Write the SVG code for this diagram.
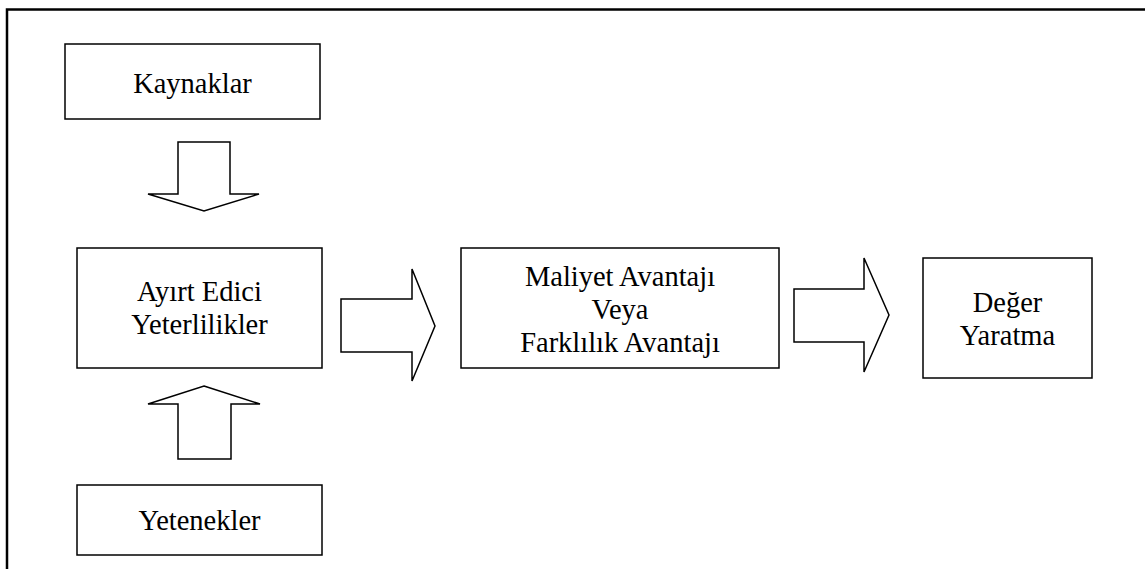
<svg xmlns="http://www.w3.org/2000/svg" width="1145" height="569" viewBox="0 0 1145 569">
<style>
.box{fill:#fff;stroke:#000;stroke-width:1.5}
.arr{fill:#fff;stroke:#000;stroke-width:1.5;stroke-linejoin:miter}
text{font-family:'Liberation Serif','Tinos','DejaVu Serif',serif;font-size:28.5px;fill:#000;text-anchor:middle}
</style>
<rect x="0" y="0" width="1145" height="569" fill="#fff"/>
<path d="M7,575 V9.5 H1150" fill="none" stroke="#000" stroke-width="2.5"/>
<g id="connectors">
<polygon class="arr" points="178,142 230,142 230,194 259,194 204,211 148,194 178,194"/>
<polygon class="arr" points="204,386 260,404 231,404 231,459 178,459 178,404 148,404"/>
<polygon class="arr" points="341,299 412,299 412,269 435,326 412,381 412,352 341,352"/>
<polygon class="arr" points="794,289 864,289 864,258 889,315 864,372 864,342 794,342"/>
</g>
<g id="kaynaklar">
<rect class="box" x="65" y="44" width="255" height="75"/>
<text x="192.5" y="93">Kaynaklar</text>
</g>
<g id="ayirt">
<rect class="box" x="77" y="248" width="245" height="120"/>
<text x="199.5" y="301">Ayırt Edici</text>
<text x="199.5" y="334">Yeterlilikler</text>
</g>
<g id="yetenekler">
<rect class="box" x="77" y="485" width="245" height="70"/>
<text x="199.5" y="530">Yetenekler</text>
</g>
<g id="maliyet">
<rect class="box" x="461" y="248" width="318" height="120"/>
<text x="620" y="286">Maliyet Avantajı</text>
<text x="620" y="319">Veya</text>
<text x="620" y="352">Farklılık Avantajı</text>
</g>
<g id="deger">
<rect class="box" x="923" y="258" width="169" height="120"/>
<text x="1007.5" y="312">Değer</text>
<text x="1007.5" y="345">Yaratma</text>
</g>
</svg>
